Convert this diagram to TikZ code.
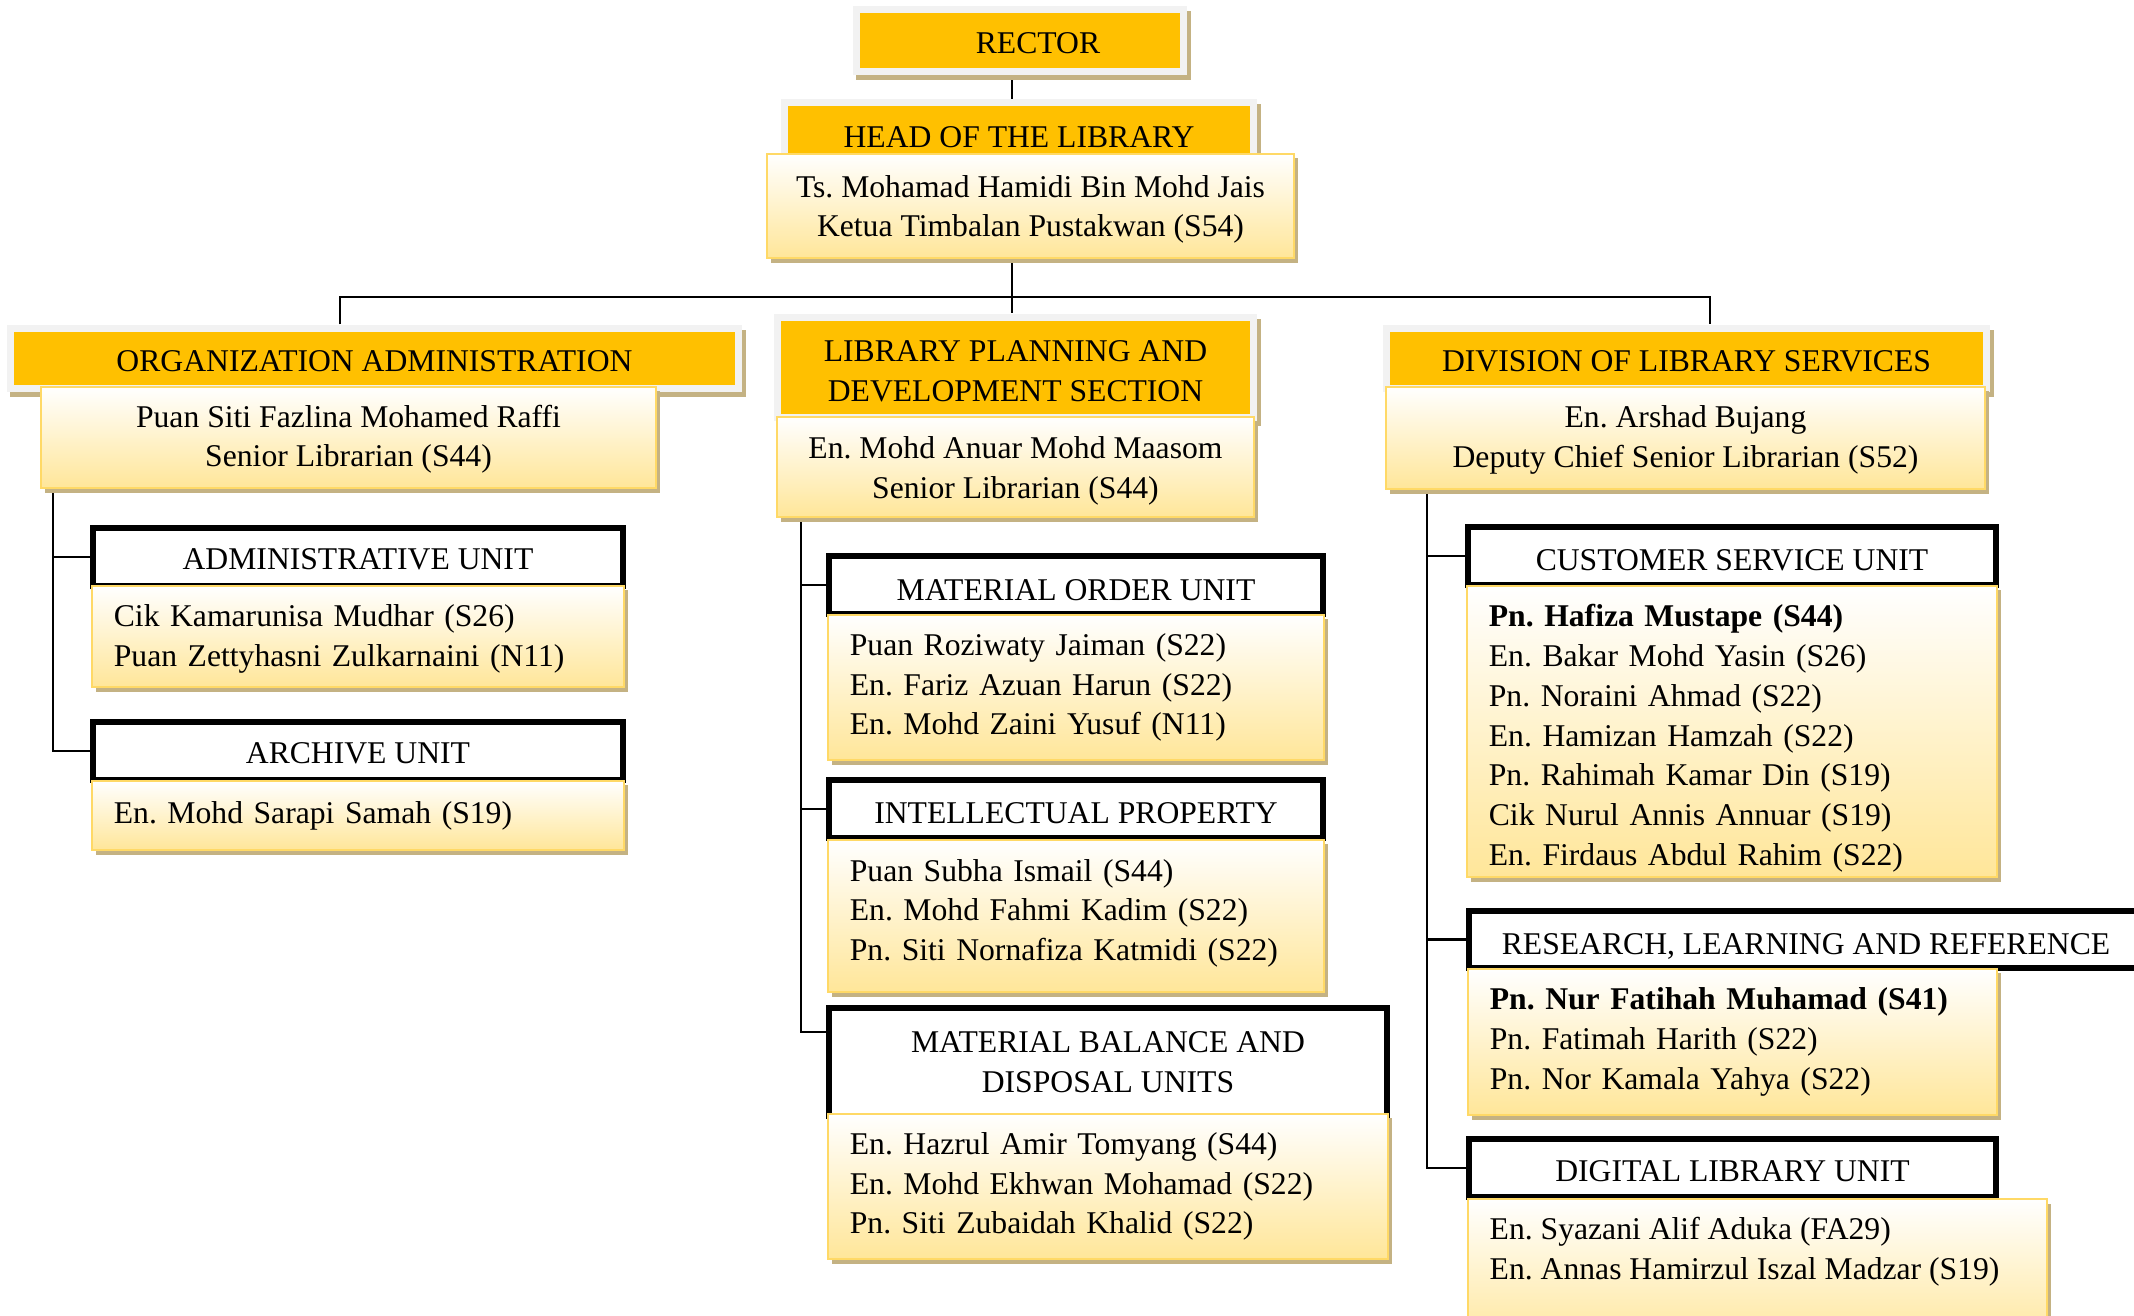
\documentclass[tikz,border=0pt]{standalone}
\usepackage{fontspec}
\setmainfont{Liberation Serif}
\frenchspacing
\usetikzlibrary{shadows,backgrounds}

\definecolor{amber}{HTML}{FFC000}
\definecolor{framegray}{HTML}{F2F2F2}
\definecolor{shadowtan}{HTML}{C4B283}
\definecolor{goldline}{HTML}{FFD966}
\definecolor{goldfill}{HTML}{FFE699}

\tikzset{
  titlebox/.style={fill=framegray, inner sep=0pt, align=center,
    drop shadow={shadow xshift=0.035cm, shadow yshift=-0.05cm, fill=shadowtan, opacity=1},
    path picture={\fill[amber] ([shift={(0.075cm,0.075cm)}]path picture bounding box.south west)
      rectangle ([shift={(-0.075cm,-0.075cm)}]path picture bounding box.north east);}},
  namebox/.style={draw=goldline, line width=0.6pt, top color=white, bottom color=goldfill,
    inner sep=0pt, align=center,
    drop shadow={shadow xshift=0.04cm, shadow yshift=-0.045cm, fill=shadowtan, opacity=1}},
  listbox/.style={namebox, align=left, inner xsep=0.22cm},
  unitbox/.style={draw=black, line width=0.055cm, fill=white, inner sep=0pt, align=center},
  link/.style={line width=0.6pt}}

\begin{document}
\begin{tikzpicture}[x=0.01cm, y=-0.01cm, font=\fontsize{9}{11.3}\selectfont]
    \useasboundingbox (0,0) rectangle (2134,1315);
    \clip (0,0) rectangle (2134,1315);
    \node[titlebox, minimum width=3.34cm, minimum height=0.69cm, text height=7.5pt] (rector) at (1020,40.5) {\hspace*{0.36cm}RECTOR};
    \node[titlebox, minimum width=4.76cm, minimum height=0.74cm, text height=6.8pt] (head) at (1019,136) {HEAD OF THE LIBRARY};
    \node[namebox, minimum width=5.27cm, minimum height=1.04cm, text height=19.4pt] (headname) at (1030.5,206) {Ts. Mohamad Hamidi Bin Mohd Jais\\Ketua Timbalan Pustakwan (S54)};
    \coordinate (spine) at (1012,297);
    \coordinate (barleft) at (340,297);
    \coordinate (barright) at (1710,297);
    \node[titlebox, minimum width=7.35cm, minimum height=0.67cm, text height=7.5pt] (orgadmin) at (374.5,358.5) {ORGANIZATION ADMINISTRATION};
    \node[namebox, minimum width=6.15cm, minimum height=1.01cm, text height=18.6pt] (orgname) at (348.5,437.5) {Puan Siti Fazlina Mohamed Raffi\\Senior Librarian (S44)};
    \node[titlebox, minimum width=4.83cm, minimum height=1.07cm, text height=19.2pt] (planning) at (1015.5,367.5) {LIBRARY PLANNING AND\\DEVELOPMENT SECTION};
    \node[namebox, minimum width=4.77cm, minimum height=1.00cm, text height=19.7pt] (planname) at (1015.5,467) {En. Mohd Anuar Mohd Maasom\\Senior Librarian (S44)};
    \node[titlebox, minimum width=6.07cm, minimum height=0.67cm, text height=7.5pt] (division) at (1686.5,358.5) {DIVISION OF LIBRARY SERVICES};
    \node[namebox, minimum width=5.99cm, minimum height=1.02cm, text height=18.6pt] (divname) at (1685.5,438) {En. Arshad Bujang\\Deputy Chief Senior Librarian (S52)};

    \node[unitbox, minimum width=5.30cm, minimum height=0.58cm, text height=7.5pt] (admin) at (358,557) {ADMINISTRATIVE UNIT};
    \node[listbox, text width=4.88cm, minimum height=1.01cm, text height=7.7pt] (adminstaff) at (358,636.5) {Cik Kamarunisa Mudhar (S26)\\Puan Zettyhasni Zulkarnaini (N11)};
    \node[unitbox, minimum width=5.30cm, minimum height=0.58cm, text height=7.5pt] (archive) at (358,751) {ARCHIVE UNIT};
    \node[listbox, text width=4.88cm, minimum height=0.69cm] (archivestaff) at (358,815.5) {En. Mohd Sarapi Samah (S19)};

    \node[unitbox, minimum width=4.94cm, minimum height=0.58cm, text height=9pt] (order) at (1076,585) {MATERIAL ORDER UNIT};
    \node[listbox, text width=4.52cm, minimum height=1.45cm] (orderstaff) at (1076,687.5) {Puan Roziwaty Jaiman (S22)\\En. Fariz Azuan Harun (S22)\\En. Mohd Zaini Yusuf (N11)};
    \node[unitbox, minimum width=4.94cm, minimum height=0.58cm, text height=8.3pt] (property) at (1076,809) {INTELLECTUAL PROPERTY};
    \node[listbox, text width=4.52cm, minimum height=1.52cm, text height=4.7pt] (propertystaff) at (1076,916) {Puan Subha Ismail (S44)\\En. Mohd Fahmi Kadim (S22)\\Pn. Siti Nornafiza Katmidi (S22)};
    \node[unitbox, minimum width=5.58cm, minimum height=1.08cm] (balance) at (1108,1062) {MATERIAL BALANCE AND\\DISPOSAL UNITS};
    \node[listbox, text width=5.16cm, minimum height=1.45cm] (balancestaff) at (1108,1186.5) {En. Hazrul Amir Tomyang (S44)\\En. Mohd Ekhwan Mohamad (S22)\\Pn. Siti Zubaidah Khalid (S22)};

    \node[unitbox, minimum width=5.28cm, minimum height=0.58cm, text height=8.3pt] (customer) at (1732,556) {CUSTOMER SERVICE UNIT};
    \node[listbox, text width=4.86cm, minimum height=2.91cm, text height=10.2pt] (customerstaff) at (1732,731.5) {\textbf{Pn. Hafiza Mustape (S44)}\\En. Bakar Mohd Yasin (S26)\\Pn. Noraini Ahmad (S22)\\En. Hamizan Hamzah (S22)\\Pn. Rahimah Kamar Din (S19)\\Cik Nurul Annis Annuar (S19)\\En. Firdaus Abdul Rahim (S22)};
    \node[unitbox, minimum width=6.74cm, minimum height=0.57cm, text height=9.8pt] (research) at (1806,939.5) {RESEARCH, LEARNING AND REFERENCE};
    \node[listbox, text width=4.85cm, minimum height=1.46cm] (researchstaff) at (1732.5,1042) {\textbf{Pn. Nur Fatihah Muhamad (S41)}\\Pn. Fatimah Harith (S22)\\Pn. Nor Kamala Yahya (S22)};
    \node[unitbox, minimum width=5.27cm, minimum height=0.58cm, text height=7.5pt] (digital) at (1732.5,1168) {DIGITAL LIBRARY UNIT};
    \node[namebox, anchor=north, minimum width=5.79cm, minimum height=1.5cm] (digitalstaff) at (1757.5,1198) {};
    \node[anchor=west, align=left, inner sep=0pt] (digitalnames) at (1489,1252) {En. Syazani Alif Aduka (FA29)\\En. Annas Hamirzul Iszal Madzar (S19)};

    \begin{scope}[on background layer]
    \draw[link] (spine |- rector.south) -- (spine |- planning.north);
    \draw[link] (barleft |- orgadmin.north) -- (barleft) -- (barright) -- (barright |- division.north);
    \draw[link] ([xshift=0.13cm]orgname.south west) |- (admin.west);
    \draw[link] ([xshift=0.13cm]orgname.south west) |- (archive.west);
    \draw[link] ([xshift=0.25cm]planname.south west) |- (order.west);
    \draw[link] ([xshift=0.25cm]planname.south west) |- (property.west);
    \draw[link] ([xshift=0.25cm]planname.south west) |- ([yshift=-0.27cm]balance.north west);
    \draw[link] ([xshift=0.42cm]divname.south west) |- (customer.west);
    \draw[link] ([xshift=0.42cm]divname.south west) |- (research.west);
    \draw[link] ([xshift=0.42cm]divname.south west) |- (digital.west);
    \end{scope}
\end{tikzpicture}
\end{document}
